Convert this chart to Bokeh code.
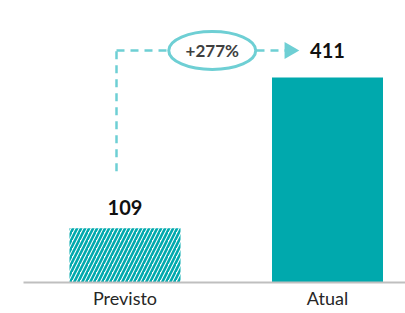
import numpy as np
from bokeh.plotting import figure
from bokeh.models import FixedTicker, Range1d
from bokeh.core.properties import value
from bokeh.embed import file_html
from bokeh.resources import INLINE

# ---- data ----
categories = ["Previsto", "Atual"]
values = [109, 411]
change_label = "+277%"

TEAL = "#00A9AD"
LIGHT = "#6ECFD4"
FONT = "Lato"

xs = list(range(len(categories)))
px_x = 202.5  # px per category unit
px_y = 205 / 411  # px per value unit

p = figure(width=405, height=313, output_backend="svg", toolbar_location=None,
           x_range=Range1d(-101.5 / px_x, 280.5 / px_x),
           y_range=Range1d(0, 282 / px_y),
           min_border_left=23, min_border_right=0, min_border_top=0,
           min_border_bottom=31)
p.outline_line_color = None
p.grid.visible = False
p.yaxis.visible = False
p.background_fill_color = "white"
p.border_fill_color = "white"

xa = p.xaxis[0]
xa.ticker = FixedTicker(ticks=xs)
xa.major_label_overrides = {i: c for i, c in enumerate(categories)}
xa.major_tick_line_color = None
xa.minor_tick_line_color = None
xa.major_tick_out = 0
xa.major_tick_in = 0
xa.axis_line_color = "#BFBFBF"
xa.axis_line_width = 2
xa.major_label_text_font = FONT
xa.major_label_text_font_size = "18px"
xa.major_label_text_color = "#262626"
xa.major_label_standoff = 4

bw = 111 / px_x
# hatched "Previsto" bar
p.vbar(x=[xs[0]], top=[values[0]], width=bw, fill_color="white",
       line_color=None, hatch_pattern="/", hatch_color=TEAL,
       hatch_scale=8, hatch_weight=2.6)
# solid "Atual" bar
p.vbar(x=[xs[1]], top=[values[1]], width=bw, fill_color=TEAL, line_color=None)

# value labels
lab_y = [values[0] + 21 / px_y, values[1] + 27 / px_y]
p.text(x=xs, y=lab_y, text=[str(v) for v in values], text_align="center",
       text_baseline="middle", text_font=value(FONT), text_font_style="bold",
       text_font_size="20px", text_color="#111111")

# connector
y_conn = lab_y[1]
x_start = xs[0] - 8.5 / px_x
x_arrow = xs[1] - 40 / px_x
p.line(x=[x_start, x_start], y=[values[0] + 57 / px_y, y_conn],
       line_color=LIGHT, line_width=2.5, line_dash="8 6")
p.line(x=[x_start, x_arrow], y=[y_conn, y_conn],
       line_color=LIGHT, line_width=2.5, line_dash="8 6")
p.scatter(x=[xs[1] - 38 / px_x], y=[y_conn], marker="triangle", size=17,
          angle=-np.pi / 2, fill_color=LIGHT, line_color=None)

# change badge
x_badge = (xs[0] + xs[1]) / 2 - 14 / px_x
p.ellipse(x=[x_badge], y=[y_conn], width=87, height=38,
          width_units="screen", height_units="screen",
          fill_color="white", line_color=LIGHT, line_width=3)
p.text(x=[x_badge], y=[y_conn], text=[change_label], text_align="center",
       text_baseline="middle", text_font=value(FONT), text_font_style="bold",
       text_font_size="17px", text_color="#404040")

open("out.html", "w").write(file_html(p, INLINE))
